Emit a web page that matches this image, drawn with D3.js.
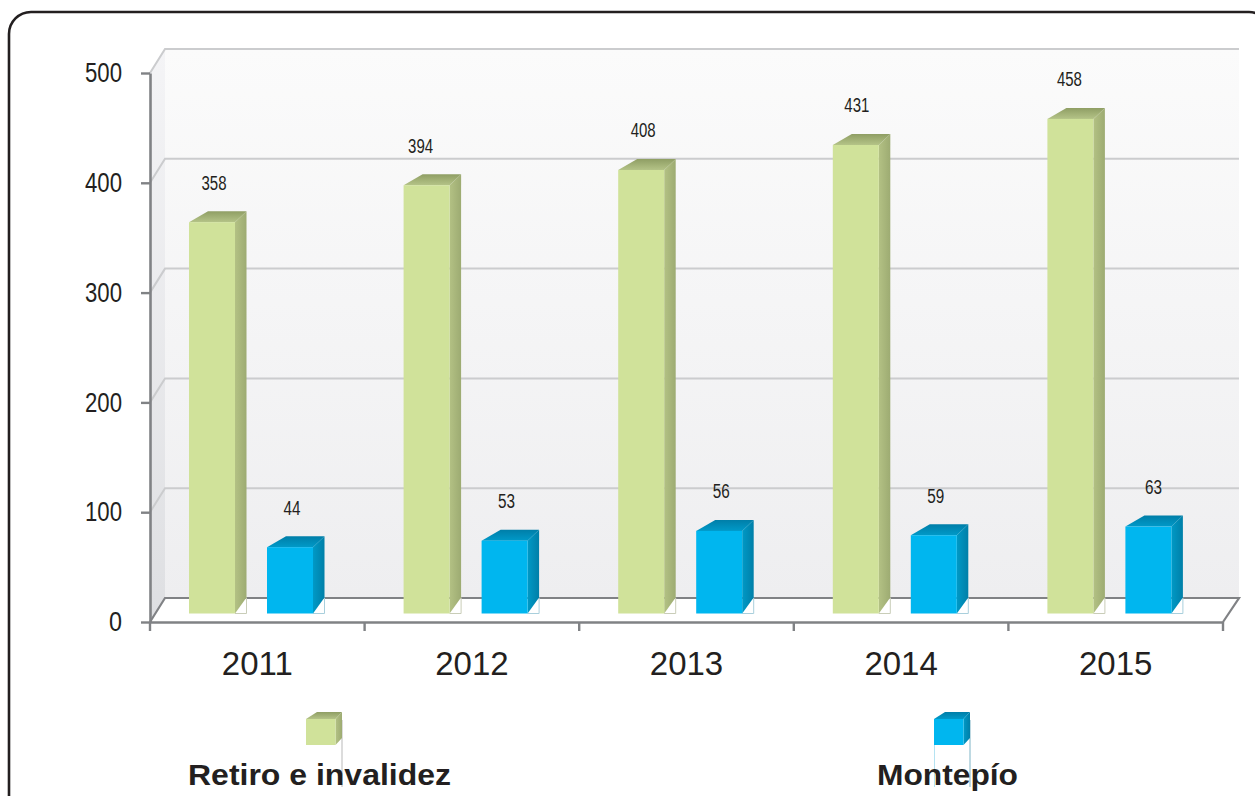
<!DOCTYPE html>
<html><head><meta charset="utf-8">
<script src="https://cdn.jsdelivr.net/npm/d3@7/dist/d3.min.js"></script>
<style>html,body{margin:0;padding:0;background:#fff;overflow:hidden}svg{display:block}text{font-family:"Liberation Sans",Arial,sans-serif;fill:#231f20}</style>
</head><body><svg id="c" width="1255" height="796"></svg>
<script>
const years = ["2011","2012","2013","2014","2015"];
const seriesNames = ["Retiro e invalidez","Montepío"];
const retiroLabels = [358,394,408,431,458];
const montepioLabels = [44,53,56,59,63];
// drawn heights (the blue bars do not follow their printed labels)
const retiroHeights = [360,394,408,431,455];
const montepioHeights = [61,67,76,72,80];
const yTicks = [0,100,200,300,400,500];

const svg = d3.select("#c");
const defs = svg.append("defs");
function grad(id,x2,y2,stops){
  const g=defs.append("linearGradient").attr("id",id).attr("x1",0).attr("y1",0).attr("x2",x2).attr("y2",y2);
  stops.forEach(([o,c])=>g.append("stop").attr("offset",o).attr("stop-color",c));
}
grad("wall",0,1,[[0,"#fbfbfb"],[1,"#eeeef0"]]);
grad("side",0,1,[[0,"#f4f4f6"],[1,"#dedfe2"]]);
grad("gTop",0,1,[[0,"#8f9e64"],[1,"#b4c387"]]);
grad("gSide",1,0,[[0,"#b3c184"],[1,"#9dab72"]]);
grad("bTop",0,1,[[0,"#007ea8"],[1,"#0099c8"]]);
grad("bSide",1,0,[[0,"#0099c6"],[1,"#007fa8"]]);

svg.append("rect").attr("x",9).attr("y",12).attr("width",1262).attr("height",830).attr("rx",22)
  .attr("fill","#fff").attr("stroke","#231f20").attr("stroke-width",2.6);

const axisX0=150, axisX1=1223, depthX=15, depthY=24;
const y = d3.scaleLinear().domain([0,500]).range([622,73]);
const yBar = d3.scaleLinear().domain([0,500]).range([613.5,70]);
const x = d3.scaleBand().domain(years).range([axisX0,axisX1]);
const xs = d3.scaleBand().domain(seriesNames).range([39,163]).paddingInner(32/78);
const poly = pts => pts.map(p=>p.join(",")).join(" ");

// walls
svg.append("rect").attr("x",axisX0+depthX).attr("y",y(500)-depthY).attr("width",1239-axisX0-depthX)
  .attr("height",y(0)-y(500)).attr("fill","url(#wall)");
svg.append("polygon").attr("fill","url(#side)")
  .attr("points",poly([[axisX0,y(500)],[axisX0+depthX,y(500)-depthY],[axisX0+depthX,y(0)-depthY],[axisX0,y(0)]]));
// gridlines
yTicks.filter(d=>d>0).forEach(d=>{
  svg.append("path").attr("fill","none").attr("stroke","#cbccce").attr("stroke-width",2)
    .attr("d",`M${axisX0},${y(d)}L${axisX0+depthX},${y(d)-depthY}L1239,${y(d)-depthY}`);
});
// floor edges
svg.append("path").attr("fill","none").attr("stroke","#808285").attr("stroke-width",2.2)
  .attr("d",`M${axisX0},${y(0)}L${axisX0+depthX},${y(0)-depthY}L1239,${y(0)-depthY}L${axisX1},${y(0)}`);

// axes
const gy = svg.append("g").attr("transform",`translate(${axisX0},0)`)
  .call(d3.axisLeft(y).tickValues(yTicks).tickSize(9).tickPadding(19).tickSizeOuter(0));
gy.select(".domain").attr("stroke","#808285").attr("stroke-width",2.6);
gy.selectAll(".tick line").attr("stroke","#808285").attr("stroke-width",2.4);
gy.selectAll("text").attr("font-size",27).attr("textLength",37).attr("lengthAdjust","spacingAndGlyphs")
  .attr("fill","#231f20").style("font-family",'"Liberation Sans",Arial,sans-serif');
gy.selectAll(".tick").filter(d=>d===0).select("text").attr("textLength",13);

const gx = svg.append("g").attr("transform",`translate(0,${y(0)})`)
  .call(d3.axisBottom(x).tickSize(0).tickPadding(30));
gx.select(".domain").attr("stroke","#808285").attr("stroke-width",2.6);
gx.selectAll("text").attr("font-size",33).attr("fill","#231f20").style("font-family",'"Liberation Sans",Arial,sans-serif');
svg.append("g").selectAll("line").data(years.map(d=>x(d)).concat([axisX1])).join("line")
  .attr("x1",d=>d).attr("x2",d=>d).attr("y1",y(0)).attr("y2",y(0)+9)
  .attr("stroke","#808285").attr("stroke-width",2.4);

// bars
function bar(g,x0,w,yTop,yBase,k,thin){
  const x1=x0+w;
  g.append("polygon").attr("fill","#fff").attr("points",poly([[x1,yBase],[x1+11.5,yBase-16],[x1+11.5,yBase]]));
  g.append("path").attr("fill","none").attr("stroke",thin).attr("stroke-width",1)
    .attr("d",`M${x1},${yBase}H${x1+11.5}V${yBase-16}`);
  g.append("polygon").attr("fill",`url(#${k}Side)`).attr("points",poly([[x1,yTop],[x1+11.5,yTop-11],[x1+11.5,yBase-16],[x1,yBase]]));
  g.append("polygon").attr("fill",`url(#${k}Top)`).attr("points",poly([[x0,yTop],[x0+19,yTop-11],[x1+11.5,yTop-11],[x1,yTop]]));
  g.append("rect").attr("x",x0).attr("y",yTop).attr("width",w).attr("height",yBase-yTop)
    .attr("fill",k==="g"?"#d0e29a":"#00b6ef");
}
const rows=[
  {name:seriesNames[0],h:retiroHeights,l:retiroLabels,k:"g",thin:"#c9cdb8",shift:[2,-6,2,1,-1]},
  {name:seriesNames[1],h:montepioHeights,l:montepioLabels,k:"b",thin:"#a9cfdc",shift:[2,2,2,2,5]}];
rows.forEach(r=>{
  const g=svg.append("g");
  years.forEach((yr,i)=>{
    const x0=x(yr)+xs(r.name), w=xs.bandwidth(), top=yBar(r.h[i]);
    bar(g,x0,w,top,yBar(0),r.k,r.thin);
    g.append("text").attr("x",x0+w/2+r.shift[i]).attr("y",top-40).attr("dy","0.36em").attr("text-anchor","middle")
      .attr("font-size",20.5).attr("textLength",r.l[i]>99?25:17).attr("lengthAdjust","spacingAndGlyphs").text(r.l[i]);
  });
});

// legend
const legendX = d3.scaleOrdinal().domain(seriesNames).range([306,934]);
const legendText = d3.scaleOrdinal().domain(seriesNames).range([188,877]);
const legendLen = d3.scaleOrdinal().domain(seriesNames).range([263,141]);
rows.forEach(r=>{
  const g=svg.append("g"), x0=legendX(r.name), x1=x0+29.5, top=719, base=745;
  g.append("line").attr("x1",x1+6.5).attr("x2",x1+6.5).attr("y1",720).attr("y2",787).attr("stroke",r.k==="g"?"#b9b9b9":"#7fb4c6").attr("stroke-width",1);
  if(r.k==="b") g.append("line").attr("x1",x0+.5).attr("x2",x0+.5).attr("y1",base).attr("y2",787).attr("stroke","#b5e3f2").attr("stroke-width",1);
  g.append("polygon").attr("fill",`url(#${r.k}Side)`).attr("points",poly([[x1,top],[x1+6.5,top-7],[x1+6.5,base-7],[x1,base]]));
  g.append("polygon").attr("fill",`url(#${r.k}Top)`).attr("points",poly([[x0,top],[x0+11,top-7],[x1+6.5,top-7],[x1,top]]));
  g.append("rect").attr("x",x0).attr("y",top).attr("width",29.5).attr("height",base-top).attr("fill",r.k==="g"?"#d0e29a":"#00b6ef");
  g.append("text").attr("x",legendText(r.name)).attr("y",785).attr("font-size",30).attr("font-weight","bold")
    .attr("textLength",legendLen(r.name)).attr("lengthAdjust","spacingAndGlyphs").text(r.name);
});
</script></body></html>
